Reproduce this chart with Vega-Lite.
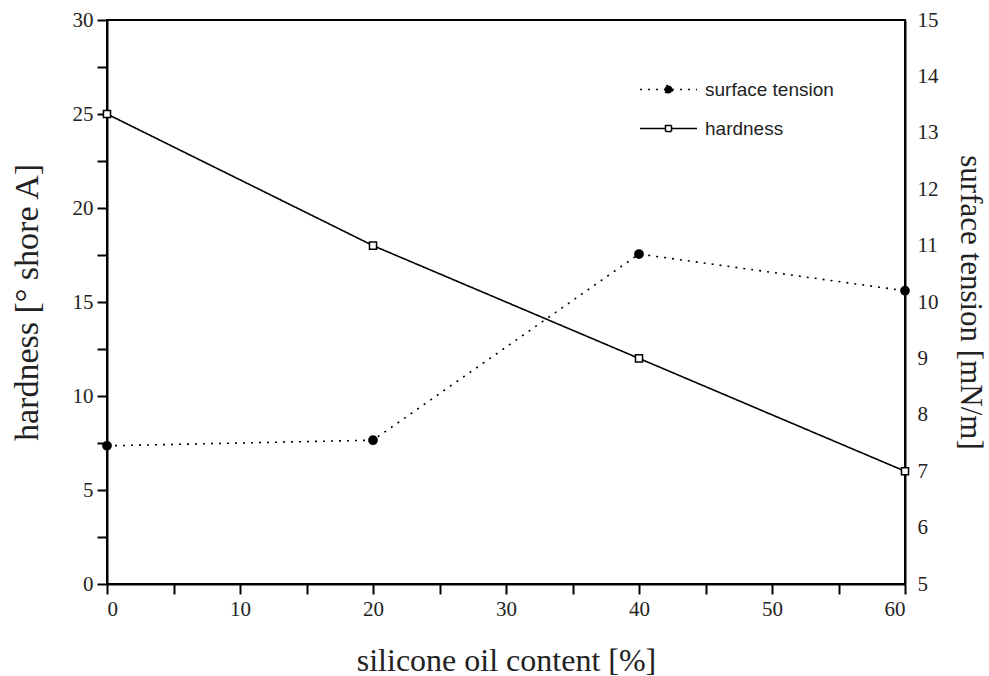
{
  "$schema": "https://vega.github.io/schema/vega-lite/v6.json",
  "autosize": {"type": "none"},
  "padding": {"left": 107, "top": 20, "right": 84, "bottom": 92},
  "width": 798,
  "height": 564,
  "background": "white",
  "config": {
    "view": {"stroke": "black", "strokeWidth": 2},
    "axis": {
      "grid": false,
      "domainColor": "black",
      "domainWidth": 2,
      "tickColor": "black",
      "tickWidth": 2,
      "labelFont": "Liberation Serif",
      "labelFontSize": 21,
      "labelColor": "#222",
      "titleFont": "Liberation Serif",
      "titleFontSize": 32,
      "titleFontWeight": "normal",
      "titleColor": "#222"
    }
  },
  "data": {
    "values": [
      {"x": 0, "series": "hardness", "value": 25},
      {"x": 20, "series": "hardness", "value": 18},
      {"x": 40, "series": "hardness", "value": 12},
      {"x": 60, "series": "hardness", "value": 6},
      {"x": 0, "series": "surface tension", "value": 7.45},
      {"x": 20, "series": "surface tension", "value": 7.55},
      {"x": 40, "series": "surface tension", "value": 10.85},
      {"x": 60, "series": "surface tension", "value": 10.2}
    ]
  },
  "layer": [
    {
      "transform": [{"filter": "datum.series === 'hardness'"}],
      "encoding": {
        "x": {
          "field": "x", "type": "quantitative",
          "scale": {"domain": [0, 60], "nice": false},
          "axis": {
            "orient": "bottom",
            "title": "silicone oil content [%]",
            "values": [0, 5, 10, 15, 20, 25, 30, 35, 40, 45, 50, 55, 60],
            "labelExpr": "datum.value % 10 === 0 ? datum.label : ''",
            "tickSize": 10,
            "labelPadding": 4,
            "titlePadding": 26,
            "encode": {
              "ticks": {"update": {"y2": {"signal": "datum.value % 10 === 0 ? 10 : 5"}}},
              "labels": {"update": {"font": {"value": "Liberation Serif"}}}
            }
          }
        },
        "y": {
          "field": "value", "type": "quantitative",
          "scale": {"domain": [0, 30], "nice": false},
          "axis": {
            "orient": "left",
            "title": "hardness [° shore A]",
            "titleFontSize": 34,
            "values": [0, 2.5, 5, 7.5, 10, 12.5, 15, 17.5, 20, 22.5, 25, 27.5, 30],
            "labelExpr": "datum.value % 5 === 0 ? datum.label : ''",
            "tickSize": 10,
            "labelPadding": 4,
            "titlePadding": 28,
            "encode": {
              "ticks": {"update": {"x2": {"signal": "datum.value % 5 === 0 ? -10 : -5"}}},
              "labels": {"update": {"font": {"value": "Liberation Serif"}}}
            }
          }
        }
      },
      "layer": [
        {
          "mark": {"type": "line", "color": "black", "strokeWidth": 1.6},
          "encoding": {
            "strokeDash": {
              "field": "series", "type": "nominal",
              "scale": {"domain": ["surface tension", "hardness"], "range": [[2, 6], [1, 0]]},
              "legend": {
                "title": null,
                "orient": "none",
                "legendX": 552,
                "legendY": 60,
                "padding": 0,
                "symbolSize": 100,
                "symbolStrokeWidth": 1.5,
                "symbolStrokeColor": "black",
                "labelFont": "Liberation Sans",
                "labelFontSize": 19,
                "labelColor": "#222",
                "labelOffset": 27,
                "rowPadding": 19,
                "encode": {
                  "symbols": {
                    "update": {
                      "shape": {"signal": "datum.value === 'hardness' ? 'M-5.7,0H-0.6M0.6,0H5.7M-0.6,-0.6H0.6V0.6H-0.6Z' : 'M-5.7,0H5.7M0.8,0A0.8,0.8 0 1 1 -0.8,0A0.8,0.8 0 1 1 0.8,0Z'"},
                      "fill": {"signal": "datum.value === 'hardness' ? 'white' : 'black'"},
                      "stroke": {"value": "black"},
                      "opacity": {"value": 1}
                    }
                  }
                }
              }
            }
          }
        },
        {
          "mark": {"type": "point", "shape": "square", "filled": true, "fill": "white", "stroke": "black", "strokeWidth": 1.5, "size": 50, "opacity": 1}
        }
      ]
    },
    {
      "transform": [{"filter": "datum.series === 'surface tension'"}],
      "encoding": {
        "x": {
          "field": "x", "type": "quantitative",
          "scale": {"domain": [0, 60], "nice": false},
          "axis": {
            "orient": "top",
            "title": null,
            "labels": false,
            "domain": false,
            "values": [0, 5, 10, 15, 20, 25, 30, 35, 40, 45, 50, 55, 60],
            "tickSize": 0,
            "encode": {"ticks": {"update": {"y2": {"signal": "datum.value % 10 === 0 ? 11 : 6"}}}}
          }
        },
        "y": {
          "field": "value", "type": "quantitative",
          "scale": {"domain": [5, 15], "nice": false},
          "axis": {
            "orient": "right",
            "title": "surface tension [mN/m]",
            "titleFontSize": 31,
            "values": [5, 5.5, 6, 6.5, 7, 7.5, 8, 8.5, 9, 9.5, 10, 10.5, 11, 11.5, 12, 12.5, 13, 13.5, 14, 14.5, 15],
            "labelExpr": "datum.value % 1 === 0 ? format(datum.value, 'd') : ''",
            "tickSize": 0,
            "labelPadding": 12,
            "titlePadding": 15,
            "encode": {
              "ticks": {"update": {"x2": {"signal": "datum.value % 1 === 0 ? -10 : -5"}}},
              "labels": {"update": {"font": {"value": "Liberation Serif"}}}
            }
          }
        }
      },
      "layer": [
        {
          "mark": {"type": "line", "color": "black", "strokeWidth": 1.6},
          "encoding": {
            "strokeDash": {"field": "series", "type": "nominal"}
          }
        },
        {
          "mark": {"type": "point", "shape": "circle", "filled": true, "fill": "black", "stroke": "black", "size": 60, "opacity": 1}
        }
      ]
    }
  ],
  "resolve": {"scale": {"y": "independent"}, "axis": {"x": "independent"}}
}
